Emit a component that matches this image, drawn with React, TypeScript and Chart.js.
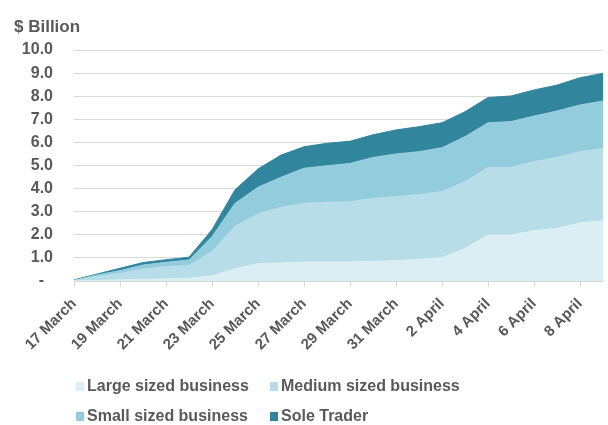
import React, { useEffect, useRef } from "react";
import { Chart, registerables } from "chart.js";

Chart.register(...registerables);

const dateLabels = [
  "17 March", "18 March", "19 March", "20 March", "21 March", "22 March",
  "23 March", "24 March", "25 March", "26 March", "27 March", "28 March",
  "29 March", "30 March", "31 March", "1 April", "2 April", "3 April",
  "4 April", "5 April", "6 April", "7 April", "8 April", "9 April",
];

const seriesNames = ["Large sized business", "Medium sized business", "Small sized business", "Sole Trader"];
const seriesColors = ["#DBEEF4", "#B7DEE8", "#93CDDD", "#31859C"];

const largeValues = [0, 0.02, 0.05, 0.07, 0.09, 0.12, 0.22, 0.53, 0.75, 0.78, 0.82, 0.82, 0.82, 0.85, 0.88, 0.94, 1.01, 1.41, 1.99, 1.99, 2.18, 2.28, 2.52, 2.61];
const mediumValues = [0.02, 0.17, 0.28, 0.44, 0.53, 0.55, 1.05, 1.84, 2.15, 2.41, 2.54, 2.59, 2.61, 2.73, 2.77, 2.80, 2.86, 2.89, 2.92, 2.93, 2.99, 3.07, 3.08, 3.13];
const smallValues = [0.01, 0.07, 0.12, 0.18, 0.19, 0.24, 0.65, 0.99, 1.16, 1.30, 1.52, 1.58, 1.66, 1.77, 1.85, 1.86, 1.90, 1.95, 1.94, 1.98, 1.97, 2.01, 2.02, 2.05];
const soleValues = [0.02, 0.04, 0.10, 0.11, 0.11, 0.12, 0.30, 0.59, 0.79, 0.96, 0.93, 0.97, 0.96, 0.98, 1.04, 1.08, 1.08, 1.08, 1.09, 1.11, 1.13, 1.12, 1.18, 1.20];

const yTitle = "$ Billion";
const yMin = 0;
const yMax = 10;
const yStep = 1;

const TEXT = "#595959";
const GRID = "#D9D9D9";
const FONT = '"Liberation Sans", Arial, sans-serif';

const overlayPlugin = {
  id: "overlay",
  afterDraw(chart: any) {
    const ctx = chart.ctx as CanvasRenderingContext2D;
    ctx.save();
    ctx.fillStyle = TEXT;
    ctx.font = `bold 17px ${FONT}`;
    ctx.textBaseline = "alphabetic";
    ctx.textAlign = "left";
    ctx.fillText(yTitle, 14, 32);

    const cols = [76, 270];
    const rows = [391, 421];
    ctx.font = `bold 16px ${FONT}`;
    chart.data.datasets.forEach((ds: any, i: number) => {
      const cx = cols[i % 2];
      const ry = rows[Math.floor(i / 2)];
      ctx.fillStyle = ds.backgroundColor;
      ctx.fillRect(cx, ry - 9, 8, 9);
      ctx.fillStyle = TEXT;
      ctx.fillText(ds.label, cx + 11, ry);
    });
    ctx.restore();
  },
};

export default function App() {
  const canvasRef = useRef<HTMLCanvasElement | null>(null);

  useEffect(() => {
    if (!canvasRef.current) return;
    const allValues = [largeValues, mediumValues, smallValues, soleValues];
    const chart = new Chart(canvasRef.current, {
      type: "line",
      data: {
        labels: dateLabels,
        datasets: allValues.map((vals, i) => ({
          label: seriesNames[i],
          data: vals,
          backgroundColor: seriesColors[i],
          borderColor: seriesColors[i],
          borderWidth: 1,
          pointRadius: 0,
          tension: 0,
          fill: i === 0 ? "origin" : "-1",
        })),
      },
      options: {
        responsive: false,
        animation: false,
        events: [],
        layout: { padding: { top: 50, left: 0, right: 5, bottom: 64 } },
        plugins: {
          legend: { display: false },
          tooltip: { enabled: false },
          title: { display: false },
        },
        scales: {
          x: {
            type: "category",
            offset: false,
            afterFit: (scale: any) => {
              scale.height = 80;
              scale.paddingLeft = 0;
              scale.paddingRight = 0;
            },
            border: { display: true, color: GRID, width: 1 },
            grid: {
              drawOnChartArea: false,
              drawTicks: true,
              tickLength: 6,
              color: (ctx: any) => (ctx.index % 2 === 0 ? GRID : "rgba(0,0,0,0)"),
            },
            ticks: {
              autoSkip: false,
              minRotation: 45,
              maxRotation: 45,
              padding: 8,
              color: TEXT,
              font: { family: FONT, size: 15, weight: "bold" },
              callback: (_v: any, idx: number) => (idx % 2 === 0 ? dateLabels[idx] : ""),
            },
          },
          y: {
            stacked: true,
            min: yMin,
            max: yMax,
            afterFit: (scale: any) => {
              scale.width = 74;
            },
            border: { display: false },
            grid: { color: GRID, lineWidth: 1, drawTicks: false },
            ticks: {
              stepSize: yStep,
              padding: 21,
              color: TEXT,
              font: { family: FONT, size: 16, weight: "bold" },
              callback: (v: any) => (Number(v) === 0 ? "-  " : Number(v).toFixed(1)),
            },
          },
        },
      },
      plugins: [overlayPlugin],
    });
    return () => chart.destroy();
  }, []);

  return (
    <div style={{ position: "fixed", left: 0, top: 0, width: 608, height: 425, background: "#fff" }}>
      <canvas ref={canvasRef} width={608} height={425} style={{ display: "block" }} />
    </div>
  );
}
